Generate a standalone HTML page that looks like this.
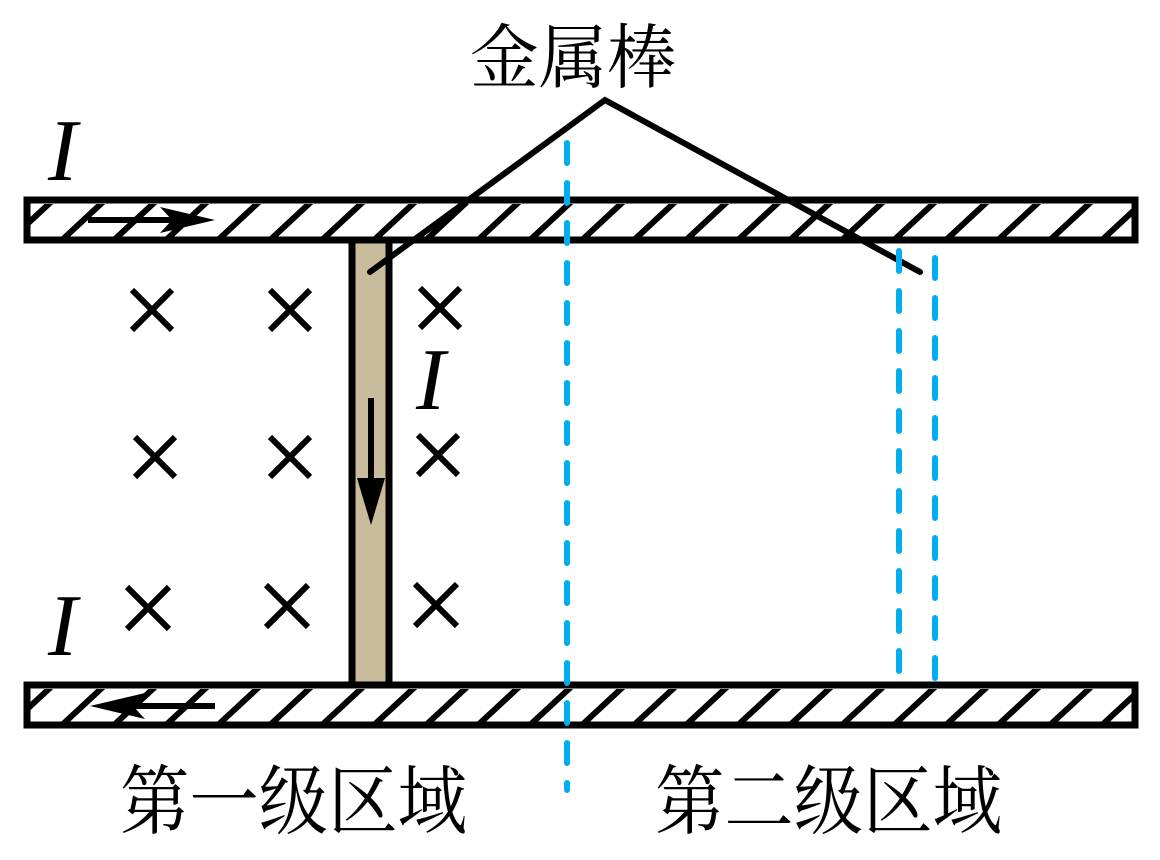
<!DOCTYPE html>
<html><head><meta charset="utf-8"><style>html,body{margin:0;padding:0;background:#fff}svg{display:block}</style></head>
<body>
<svg width="1160" height="860" viewBox="0 0 1160 860" xmlns="http://www.w3.org/2000/svg">
<defs>
<clipPath id="c1"><rect x="30" y="204" width="1104" height="33"/></clipPath>
<clipPath id="c2"><rect x="30" y="689" width="1104" height="33"/></clipPath>
</defs>
<g clip-path="url(#c1)" stroke="#000" stroke-width="6">
<path d="M10 240 L52 201 M62 240 L104 201 M114 240 L156 201 M166 240 L208 201 M218 240 L260 201 M270 240 L312 201 M322 240 L364 201 M374 240 L416 201 M426 240 L468 201 M478 240 L520 201 M530 240 L572 201 M582 240 L624 201 M634 240 L676 201 M686 240 L728 201 M738 240 L780 201 M790 240 L832 201 M842 240 L884 201 M894 240 L936 201 M946 240 L988 201 M998 240 L1040 201 M1050 240 L1092 201 M1102 240 L1144 201"/>
</g>
<g clip-path="url(#c2)" stroke="#000" stroke-width="6">
<path d="M10 725 L52 686 M62 725 L104 686 M114 725 L156 686 M166 725 L208 686 M218 725 L260 686 M270 725 L312 686 M322 725 L364 686 M374 725 L416 686 M426 725 L468 686 M478 725 L520 686 M530 725 L572 686 M582 725 L624 686 M634 725 L676 686 M686 725 L728 686 M738 725 L780 686 M790 725 L832 686 M842 725 L884 686 M894 725 L936 686 M946 725 L988 686 M998 725 L1040 686 M1050 725 L1092 686 M1102 725 L1144 686"/>
</g>
<rect x="27" y="200" width="1108" height="40" fill="none" stroke="#000" stroke-width="7"/>
<rect x="27" y="685" width="1108" height="40" fill="none" stroke="#000" stroke-width="7"/>
<rect x="352" y="240" width="37" height="445" fill="#c8bc9c" stroke="#000" stroke-width="7"/>
<line x1="371" y1="398" x2="371" y2="490" stroke="#000" stroke-width="6"/>
<polygon points="357,478 385,478 371,525" fill="#000"/>
<line x1="88" y1="220" x2="195" y2="220" stroke="#000" stroke-width="6"/>
<polygon points="160,207 215,220 160,233 172,220" fill="#000"/>
<line x1="215" y1="706" x2="110" y2="706" stroke="#000" stroke-width="6"/>
<polygon points="145,693 90,706 145,719 133,706" fill="#000"/>
<polyline points="370,272 605,100 920,272" fill="none" stroke="#000" stroke-width="6" stroke-linecap="round"/>
<g stroke="#00aeef" stroke-width="6" stroke-linecap="round" stroke-dasharray="20 20">
<line x1="567" y1="143" x2="567" y2="790"/>
<line x1="899" y1="251" x2="899" y2="676"/>
<line x1="935" y1="258" x2="935" y2="680"/>
</g>
<g stroke="#000" stroke-width="6">
<path d="M132 290 L172 330 M172 290 L132 330"/>
<path d="M270 290 L310 330 M310 290 L270 330"/>
<path d="M420 288 L460 328 M460 288 L420 328"/>
<path d="M135 437 L175 477 M175 437 L135 477"/>
<path d="M270 437 L310 477 M310 437 L270 477"/>
<path d="M418 435 L458 475 M458 435 L418 475"/>
<path d="M127 587 L169 629 M169 587 L127 629"/>
<path d="M266 585 L308 627 M308 585 L266 627"/>
<path d="M415 584 L457 626 M457 584 L415 626"/>
</g>
<g font-family="Liberation Serif, serif" font-style="italic" font-size="88" fill="#000">
<text x="48" y="180">I</text>
<text x="416" y="409">I</text>
<text x="48" y="655">I</text>
</g>
<g font-family="'Liberation Serif','Noto Serif CJK SC',serif" fill="#000">
<text x="470" y="82" font-size="70" textLength="206" lengthAdjust="spacingAndGlyphs">金属棒</text>
<text x="120" y="828" font-size="76" textLength="347" lengthAdjust="spacingAndGlyphs">第一级区域</text>
<text x="655" y="828" font-size="76" textLength="347" lengthAdjust="spacingAndGlyphs">第二级区域</text>
</g>
</svg>
</body></html>
